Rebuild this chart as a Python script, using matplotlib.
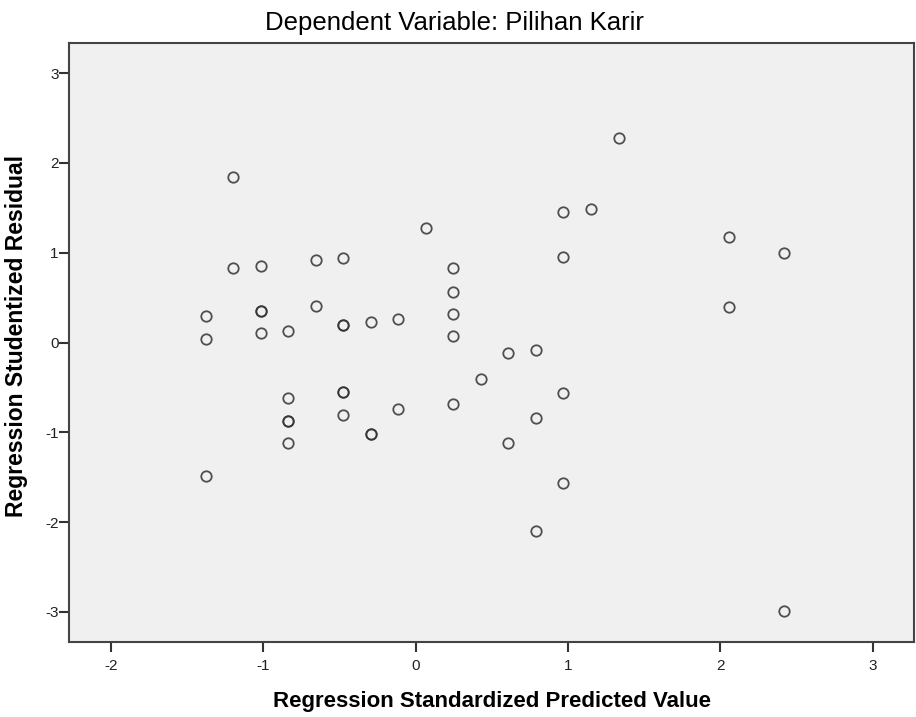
import matplotlib.pyplot as plt

# Regression Standardized Predicted Value (x) vs Studentized Residual (y)
pred = [-1.198, -1.198, -1.016, -0.655, -0.475, 0.068, 0.247, 0.247, 0.247, 0.247,
        -1.379, -1.379, -1.016, -1.016, -1.016, -0.837, -0.655, -0.475, -0.475, -0.294, -0.114,
        1.333, 0.969, 1.151, 2.055, 2.418, 0.969, 2.055, 0.608, 0.790,
        -0.837, -0.837, -0.837, -0.837, -0.475, -0.475, -0.475, -0.114, -0.294, -0.294, 0.247, -1.379,
        0.429, 0.969, 0.790, 0.608, 0.969, 0.790, 2.418]
resid = [1.846, 0.833, 0.855, 0.919, 0.944, 1.278, 0.826, 0.566, 0.317, 0.072,
         0.298, 0.039, 0.354, 0.354, 0.102, 0.131, 0.410, 0.195, 0.195, 0.225, 0.258,
         2.280, 1.453, 1.487, 1.175, 1.000, 0.949, 0.399, -0.113, -0.083,
         -0.622, -0.871, -0.871, -1.123, -0.551, -0.551, -0.804, -0.737, -1.023, -1.023, -0.681, -1.487,
         -0.403, -0.559, -0.841, -1.123, -1.568, -2.096, -2.990]

xticks = [-2, -1, 0, 1, 2, 3]
yticks = [-3, -2, -1, 0, 1, 2, 3]

plt.rcParams['font.family'] = ['Liberation Sans', 'DejaVu Sans']
plt.rcParams['axes.unicode_minus'] = False

fig = plt.figure(figsize=(9.16, 7.17), dpi=100)
ax = fig.add_axes([69 / 916, 1 - 642 / 717, (914 - 69) / 916, (642 - 43) / 717])
ax.set_facecolor('#f0f0f0')

ax.plot(pred, resid, 'o', markersize=7.5, markerfacecolor='none',
        markeredgecolor='#333333', markeredgewidth=1.3, alpha=0.85)

ax.set_xlim(-2.276, 3.272)
ax.set_ylim(-3.335, 3.335)
ax.set_xticks(xticks)
ax.set_yticks(yticks)

for s in ax.spines.values():
    s.set_color('#444444')
    s.set_linewidth(1.5)

ax.tick_params(axis='x', direction='out', length=7, width=1.5, color='#333333',
               labelsize=11, labelcolor='#222222', pad=5)
ax.tick_params(axis='y', direction='out', length=7, width=1.5, color='#333333',
               labelsize=11, labelcolor='#222222', pad=0.5)

fig.text(454 / 916, 1 - 23 / 717, 'Dependent Variable: Pilihan Karir',
         ha='center', va='center', fontsize=18.5)
fig.text(492 / 916, 1 - 701 / 717, 'Regression Standardized Predicted Value',
         ha='center', va='center', fontsize=16, fontweight='bold')
fig.text(17 / 916, 1 - 336 / 717, 'Regression Studentized Residual',
         ha='center', va='center', rotation=90, fontsize=16.5, fontweight='bold')

fig.savefig('out.png', dpi=100)
